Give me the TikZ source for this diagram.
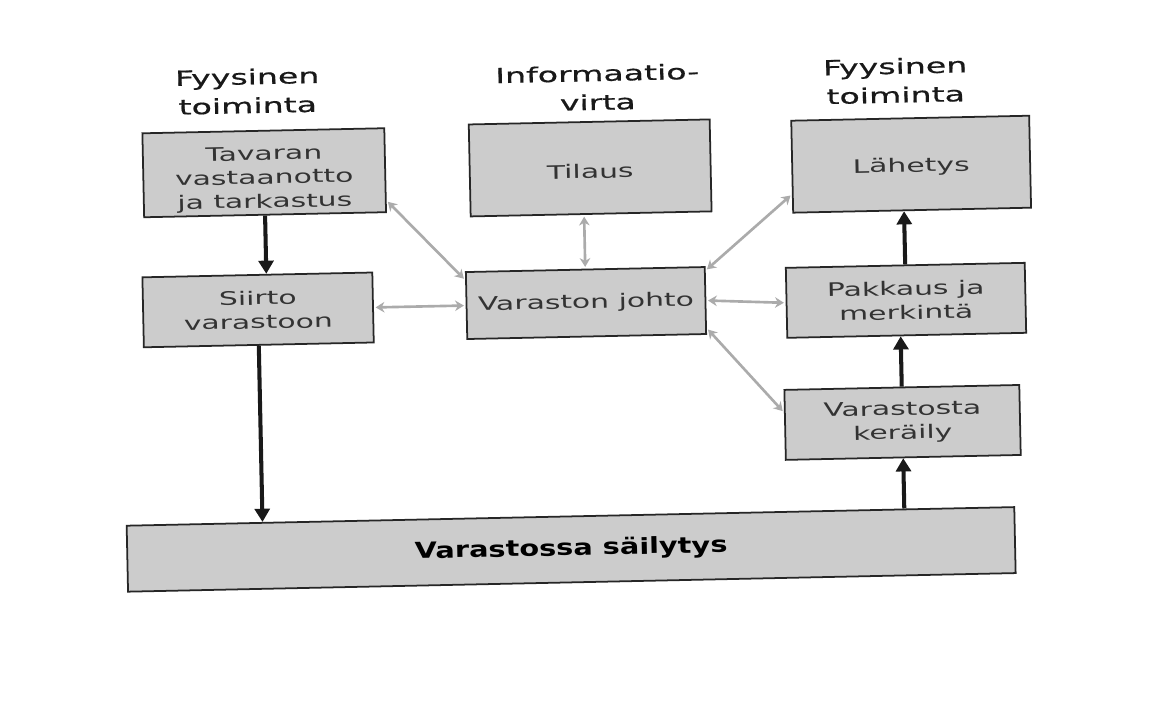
\documentclass[tikz,border=0pt]{standalone}
\usepackage{fontspec}
\setmainfont{DejaVu Sans}
\newfontfamily\wideface[FakeStretch=1.6]{DejaVu Sans}
\newfontfamily\headface[FakeStretch=1.6, FakeBold=0.6]{DejaVu Sans}
\newfontfamily\baseface[FakeStretch=1.3]{DejaVu Sans}
\usetikzlibrary{arrows.meta,calc}

\begin{document}
\begin{tikzpicture}[
  x=0.02cm, y=-0.02cm,
  box/.style={draw=black!85, line width=1pt, fill=black!20, align=center,
    inner sep=0pt, text=black!80, font=\wideface\fontsize{10.6}{13.6}\selectfont},
  head/.style={align=center, text=black!90,
    font=\headface\fontsize{11.8}{16.4}\selectfont},
  flow/.style={-{Triangle[width=8.5pt,length=7.5pt]}, line width=2.3pt, black!90},
  info/.style={{Stealth[width=6pt,length=5pt]}-{Stealth[width=6pt,length=5pt]},
    line width=1.5pt, black!33, shorten >=1pt, shorten <=1pt}
]
\fill[white] (0,0) rectangle (1176,702);
\useasboundingbox (0,0) rectangle (1176,702);

\begin{scope}[rotate around={1.2:(588,351)}, transform shape]
  % column headings
  \node[head] (hleft)  at (253,84) {Fyysinen\\toiminta};
  \node[head] (hmid)   at (603,88) {Informaatio-\\virta};
  \node[head] (hright) at (901,87) {Fyysinen\\toiminta};

  % process boxes
  \node[box, minimum width=4.84cm, minimum height=1.68cm] (tav) at (268,166)
    {\rule{0pt}{15pt}Tavaran\\vastaanotto\\ja tarkastus};
  \node[box, minimum width=4.6cm, minimum height=1.4cm] (sii) at (259,303)
    {Siirto\\varastoon};
  \node[box, minimum width=4.82cm, minimum height=1.84cm] (til) at (594,168)
    {\rule{0pt}{12pt}Tilaus};
  \node[box, minimum width=4.78cm, minimum height=1.34cm] (joh) at (587,303)
    {Varaston johto};
  \node[box, minimum width=4.76cm, minimum height=1.84cm] (lah) at (915,171)
    {\rule{0pt}{11pt}Lähetys};
  \node[box, minimum width=4.78cm, minimum height=1.4cm] (pak) at (907,307)
    {Pakkaus ja\\merkintä};
  \node[box, minimum width=4.7cm, minimum height=1.4cm] (ker) at (901,429)
    {Varastosta\\keräily};
  \node[box, minimum width=17.76cm, minimum height=1.32cm,
        font=\baseface\bfseries\fontsize{12.6}{14}\selectfont, text=black] (bot) at (567,549)
    {Varastossa säilytys};

  % physical flow
  \draw[flow] (tav.south) -- (tav.south |- sii.north);
  \draw[flow] (sii.south) -- (sii.south |- bot.north);
  \draw[flow] (ker.south |- bot.north) -- (ker.south);
  \draw[flow] (ker.north) -- (ker.north |- pak.south);
  \draw[flow] (pak.north) -- (pak.north |- lah.south);

  % information flow
  \draw[info] (joh.168) -- (tav.-14);
  \draw[info] (joh.north) -- (joh.north |- til.south);
  \draw[info] (joh.west) -- (sii.east);
  \draw[info] (joh.14) -- (lah.193);
  \draw[info] (joh.east) -- (pak.west);
  \draw[info] (joh.-13) -- (ker.174);
\end{scope}
\end{tikzpicture}
\end{document}
